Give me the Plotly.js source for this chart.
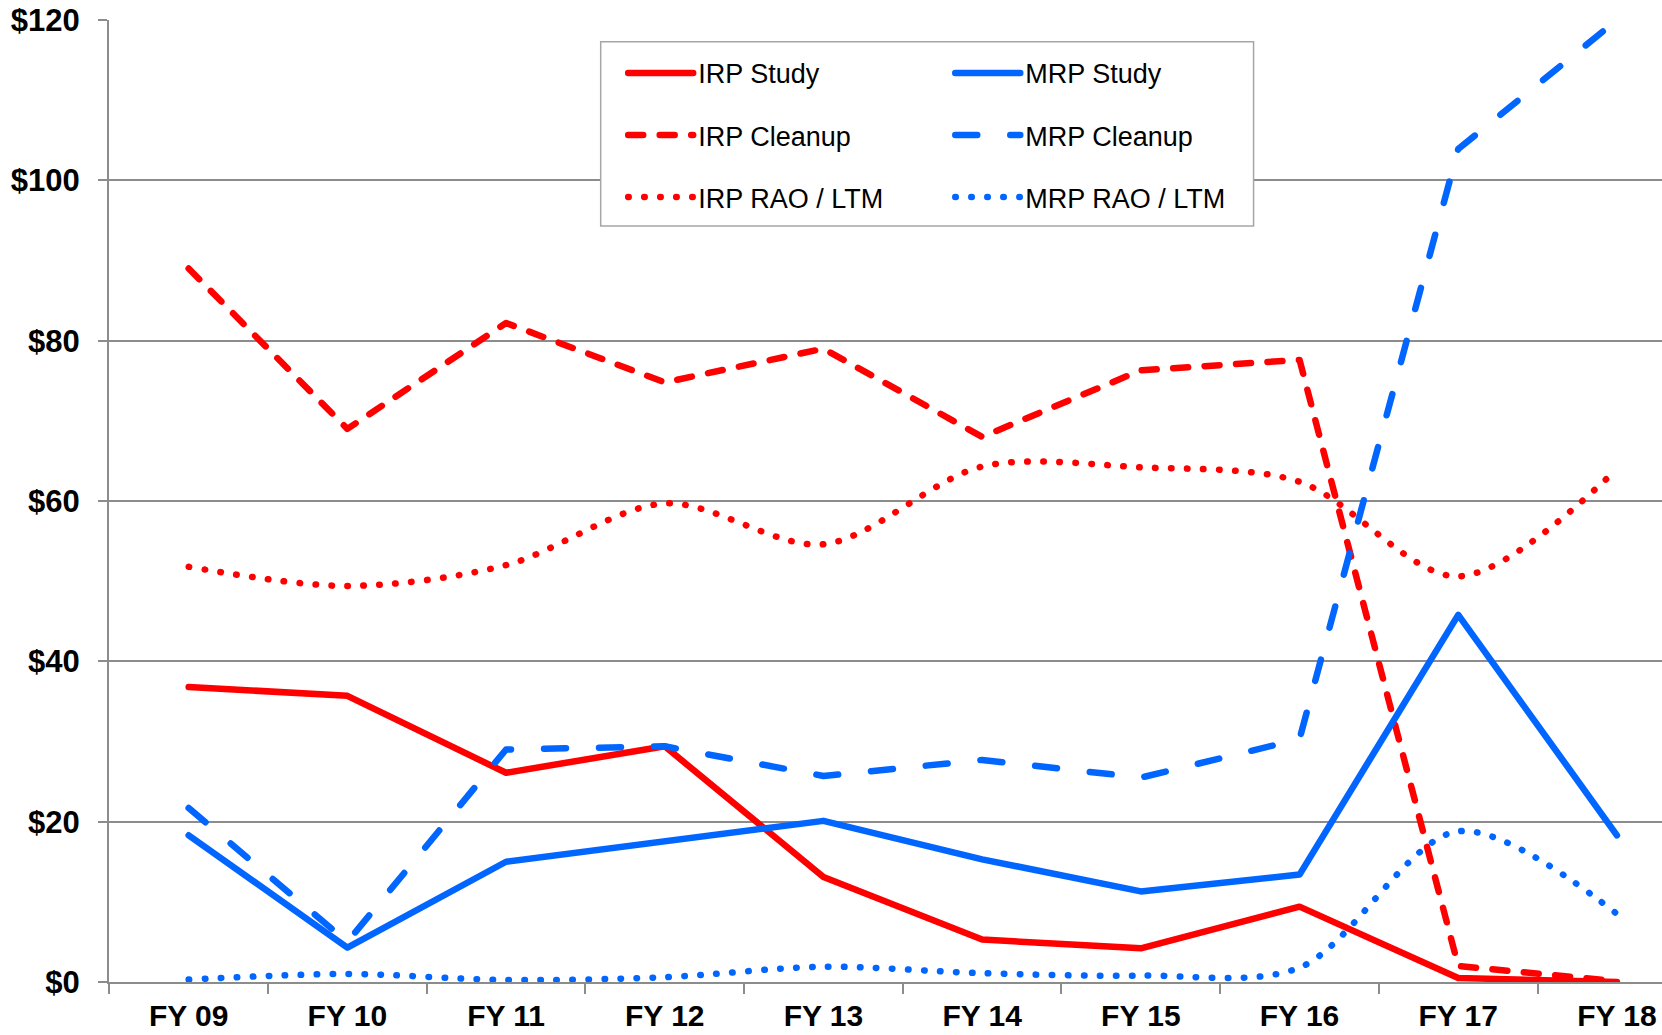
<!DOCTYPE html>
<html>
<head>
<meta charset="utf-8">
<script src="https://cdn.plot.ly/plotly-3.0.1.min.js"></script>
<style>
  html, body { margin: 0; padding: 0; background: #fff; }
  #chart { width: 1662px; height: 1035px; }
  .js-line { stroke-linecap: round; stroke-linejoin: round; }
</style>
</head>
<body>
<div id="chart"></div>
<script>
// ---- Data ($ millions) ----
const categories = ['FY 09', 'FY 10', 'FY 11', 'FY 12', 'FY 13', 'FY 14', 'FY 15', 'FY 16', 'FY 17', 'FY 18'];

const irpStudy   = [36.8, 35.7, 26.1, 29.4, 13.1, 5.3, 4.2, 9.4, 0.5, 0.0];
const irpCleanup = [89.0, 69.0, 82.2, 74.8, 79.0, 68.0, 76.3, 77.6, 2.0, 0.1];
const irpRao     = [51.8, 49.4, 52.0, 59.7, 54.6, 64.3, 64.2, 62.4, 50.6, 64.0];

const mrpStudy   = [18.3, 4.3, 15.0, 17.5, 20.1, 15.3, 11.3, 13.4, 45.8, 18.3];
const mrpCleanup = [21.7, 5.0, 29.0, 29.4, 25.7, 27.7, 25.5, 30.3, 103.9, 120.0];
const mrpRao     = [0.3, 1.0, 0.25, 0.6, 1.9, 1.1, 0.8, 1.8, 18.8, 8.5];

const yTickVals = [0, 20, 40, 60, 80, 100, 120];
const yTickText = ['$0', '$20', '$40', '$60', '$80', '$100', '$120'];

// ---- Styling ----
const RED = '#ff0000';
const BLUE = '#0066ff';
const GRID = '#8c8c8c';
const FONT = 'Arial, "Liberation Sans", sans-serif';
const LW = 6.5;

function tr(name, y, color, dash, shape, legend, group) {
  return {
    type: 'scatter', mode: 'lines', name: name,
    x: categories, y: y,
    line: { color: color, width: LW, dash: dash, shape: shape, smoothing: 0.9 },
    legend: legend, legendgroup: group,
    hoverinfo: 'x+y+name'
  };
}

const data = [
  tr('IRP Study',      irpStudy,   RED,  'solid',        'linear', 'legend',  'g1'),
  tr('IRP Cleanup',    irpCleanup, RED,  '15px,16.5px',  'linear', 'legend',  'g2'),
  tr('IRP RAO / LTM',  irpRao,     RED,  '0.5px,15.5px', 'spline', 'legend',  'g3'),
  tr('MRP Study',      mrpStudy,   BLUE, 'solid',        'linear', 'legend2', 'g4'),
  tr('MRP Cleanup',    mrpCleanup, BLUE, '22px,33px',    'linear', 'legend2', 'g5'),
  tr('MRP RAO / LTM',  mrpRao,     BLUE, '0.5px,15.5px', 'spline', 'legend2', 'g6')
];

const legendCommon = {
  bgcolor: 'rgba(0,0,0,0)', borderwidth: 0,
  font: { family: FONT, size: 27, color: '#000' },
  itemwidth: 65, tracegroupgap: 24,
  xanchor: 'left', yanchor: 'top', orientation: 'v',
  itemclick: false, itemdoubleclick: false
};

const layout = {
  width: 1662, height: 1035,
  margin: { l: 109, r: 0, t: 20, b: 53, pad: 0 },
  paper_bgcolor: '#fff', plot_bgcolor: '#fff',
  showlegend: true,
  font: { family: FONT, color: '#000' },
  xaxis: {
    type: 'category',
    categoryorder: 'array', categoryarray: categories,
    range: [-0.502, 9.284],
    showgrid: false, zeroline: false,
    showline: true, linecolor: GRID, linewidth: 2,
    ticks: 'outside', ticklen: 10, tickwidth: 2, tickcolor: GRID,
    tickson: 'boundaries',
    tickfont: { family: FONT, size: 30, color: '#000', weight: 700 },
    ticklabelstandoff: 6,
    fixedrange: true
  },
  yaxis: {
    range: [0, 120],
    tickmode: 'array', tickvals: yTickVals, ticktext: yTickText,
    showgrid: true, gridcolor: GRID, gridwidth: 2,
    zeroline: false,
    showline: true, linecolor: GRID, linewidth: 2,
    ticks: 'outside', ticklen: 9, tickwidth: 2, tickcolor: GRID,
    tickfont: { family: FONT, size: 31, color: '#000', weight: 700 },
    ticklabelstandoff: 12,
    fixedrange: true
  },
  legend:  Object.assign({}, legendCommon, { x: 0.3311, y: 0.970 }),
  legend2: Object.assign({}, legendCommon, { x: 0.5417, y: 0.970 }),
  shapes: [{
    type: 'rect', xref: 'paper', yref: 'paper',
    x0: 0.3166, x1: 0.7370, y0: 0.7859, y1: 0.9775,
    line: { color: '#a6a6a6', width: 1.5 },
    fillcolor: '#ffffff', layer: 'above'
  }]
};

Plotly.newPlot('chart', data, layout, { displayModeBar: false, responsive: false });
</script>
</body>
</html>
